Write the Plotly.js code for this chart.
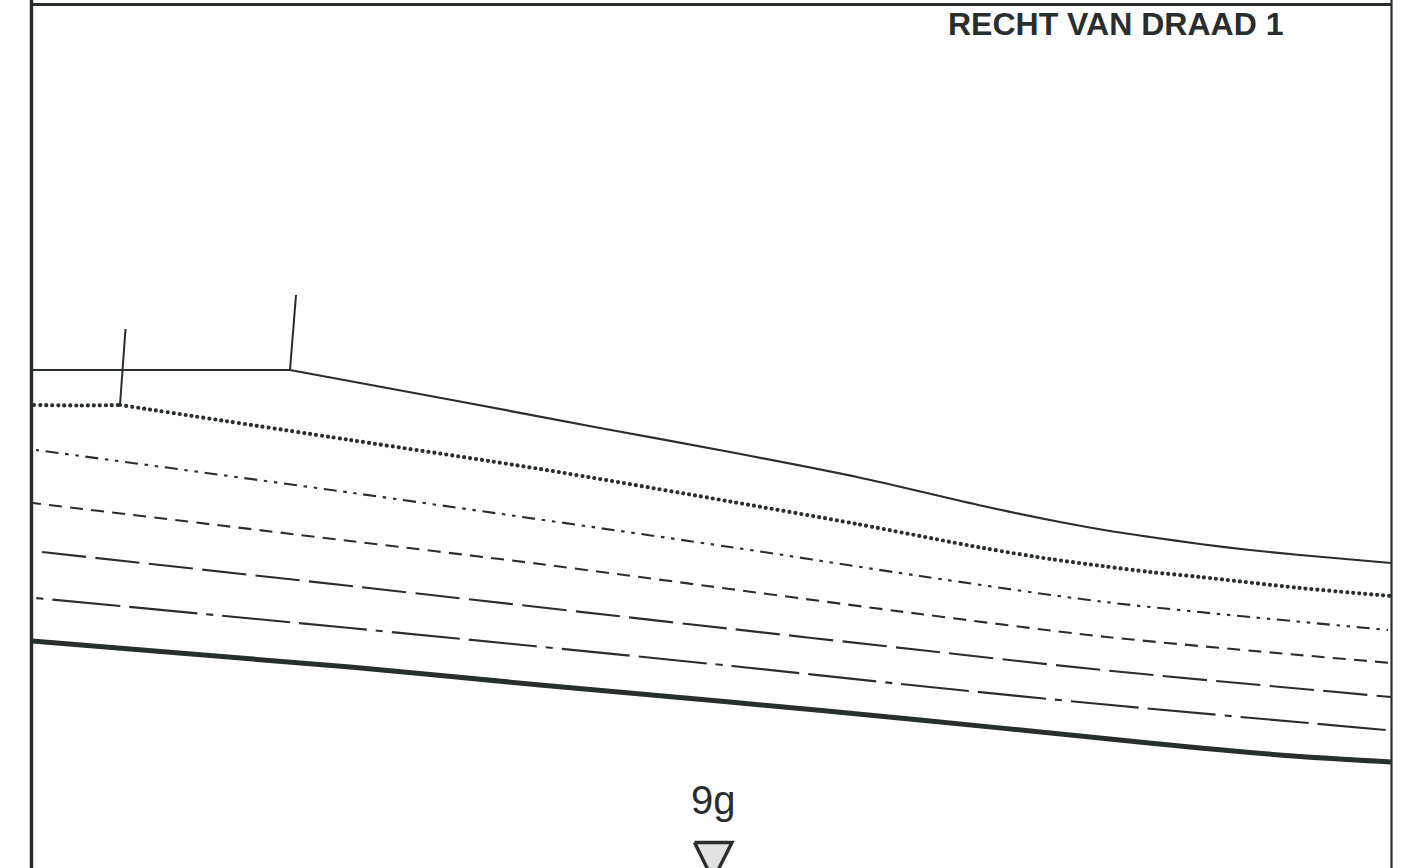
<!DOCTYPE html>
<html><head><meta charset="utf-8">
<script src="https://cdn.plot.ly/plotly-3.0.1.min.js"></script>
<style>html,body{margin:0;padding:0;background:#fff;overflow:hidden}
#c{width:1405px;height:868px}
</style></head><body><div id="c"></div>
<script>
const ink = '#282d2d';
const upperFlatX = [32,290];
const upperFlatY = [370,370];
const upperX = [290,452,600,730,857,983,1060,1110,1150,1200,1250,1300,1391];
const upperY = [370,400,428,452,477,506,522,531,537,544,550,555,563];
const dottedFlatX = [34,80,120];
const dottedFlatY = [405,405.5,405];
const dottedX = [120,350,540,730,857,983,1050,1102,1150,1200,1300,1391];
const dottedY = [405,440,469,501.5,524,548,559,566,572,577,588,596];
const dashDotDotX = [36,353,730,920,1105,1388];
const dashDotDotY = [450,493,547,576,602,630];
const dashedX = [33,350,540,730,920,1107,1391];
const dashedY = [503,541,564,589,614,637,663];
const longDashX = [42,360,732,920,1102,1391];
const longDashY = [552,587,629,650,670,697];
const longDashDotX = [35,350,732,920,1100,1386];
const longDashDotY = [598,628,666,686,704,730];
const thickX = [32,350,540,730,920,1100,1200,1300,1391];
const thickY = [641,667,685,702,720,738,748,756.5,762];
const tick1X = [120,125.5], tick1Y = [405,329];
const tick2X = [290,296], tick2Y = [370,295];
const leftX = [31.5,31.5], leftY = [0,868];
const rightX = [1391.5,1391.5], rightY = [0,868];
const topX = [32,1391], topY = [4.5,4.5];
const triX = [694.5,732,713,694.5], triY = [842.5,842.5,880,842.5];

const line = (x,y,width,dash,curved) => ({x,y,type:'scatter',mode:'lines',hoverinfo:'skip',
  line:{color:ink,width,dash:dash||'solid',simplify:false,shape:curved?'spline':'linear',smoothing:0.8}});
const traces = [
  line(upperFlatX,upperFlatY,2.2),
  line(upperX,upperY,2.2,null,true),
  line(dottedFlatX,dottedFlatY,4.2,'0px,6px',true),
  line(dottedX,dottedY,4.2,'0px,6px',true),
  line(dashDotDotX,dashDotDotY,2.1,'13px,6.7px,3.5px,6.7px,3.5px,6.7px',true),
  line(dashedX,dashedY,2.1,'13px,8.2px',true),
  line(longDashX,longDashY,2.1,'44.3px,9.4px',true),
  line(longDashDotX,longDashDotY,2.1,'68.3px,9px,68.3px,9px,7px,9px',true),
  line(thickX,thickY,5,null,true),
  line(tick1X,tick1Y,2),
  line(tick2X,tick2Y,2),
  line(leftX,leftY,3.4),
  line(rightX,rightY,2.2),
  line(topX,topY,3),
  {x:triX,y:triY,type:'scatter',mode:'lines',fill:'toself',fillcolor:'#e2e2e2',hoverinfo:'skip',
   line:{color:ink,width:3.4}}
];
const layout = {
  width:1405,height:868,margin:{l:0,r:0,t:0,b:0},showlegend:false,
  paper_bgcolor:'#fff',plot_bgcolor:'#fff',
  xaxis:{range:[0,1405],visible:false,fixedrange:true},
  yaxis:{range:[868,0],visible:false,fixedrange:true},
  annotations:[
    {text:'<b>RECHT VAN DRAAD 1</b>',x:1115,y:23.5,xref:'x',yref:'y',showarrow:false,
     font:{family:'Liberation Sans',size:32,color:ink}},
    {text:'9g',x:713,y:800,xref:'x',yref:'y',showarrow:false,
     font:{family:'Liberation Sans',size:40,color:ink}}
  ]
};
const roundCaps = [2,3];
const dashOffsets = {4:30.5,5:5.2,7:153.3};
Plotly.newPlot('c',traces,layout,{displayModeBar:false,staticPlot:true}).then(()=>{
  const groups = document.querySelectorAll('.scatterlayer .trace');
  roundCaps.forEach(i=>{ groups[i].querySelector('.js-line').style.strokeLinecap = 'round'; });
  Object.keys(dashOffsets).forEach(i=>{
    groups[i].querySelector('.js-line').style.strokeDashoffset = dashOffsets[i]+'px';
  });
});
</script></body></html>
